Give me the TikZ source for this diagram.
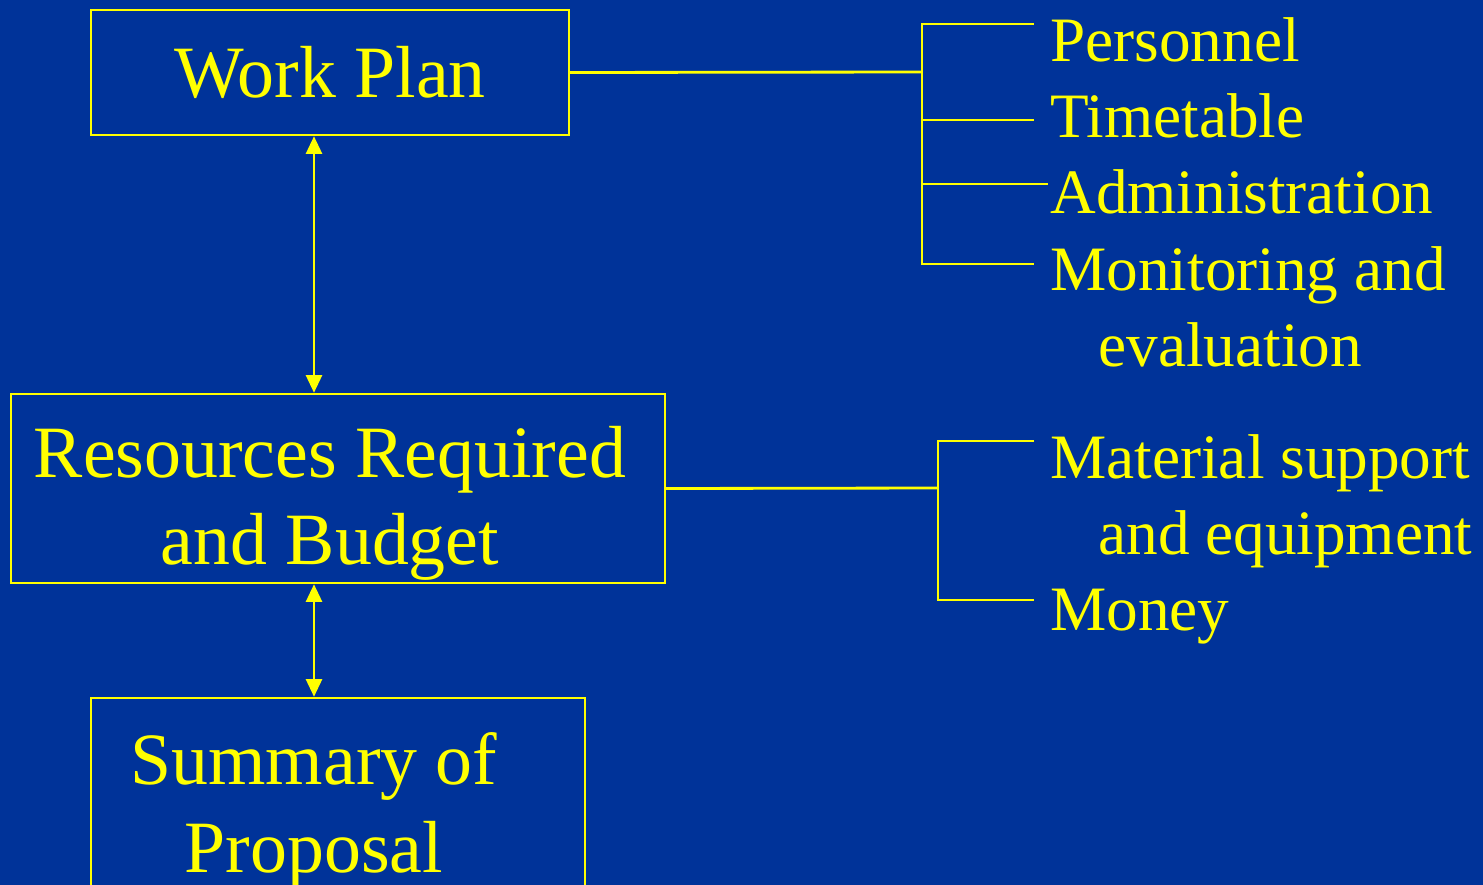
\documentclass[tikz,border=0pt]{standalone}
\usepackage{fontspec}
\setmainfont{Liberation Serif}
\usepackage{tikz}
\usetikzlibrary{arrows.meta}
\definecolor{slideblue}{HTML}{003399}
\definecolor{slideyellow}{HTML}{FFFF00}
\tikzstyle{box} = [rectangle, draw=slideyellow, line width=1.4pt, text=slideyellow, align=center, font=\fontsize{42}{50}\selectfont]
\tikzstyle{item} = [anchor=base west, inner sep=0pt, text=slideyellow, align=left, font=\fontsize{36}{43}\selectfont]
\tikzstyle{link} = [draw=slideyellow, line width=1.6pt]
\tikzstyle{arrow} = [draw=slideyellow, line width=1.6pt, {Triangle[length=10pt,width=9pt]}-{Triangle[length=10pt,width=9pt]}]

\begin{document}
\begin{tikzpicture}[x=0.02cm, y=-0.02cm]
        \fill[slideblue] (0,0) rectangle (1483,885);
        \useasboundingbox (0,0) rectangle (1483,885);
        % main boxes
        \node (wp) [box, minimum width=9.56cm, minimum height=2.5cm] at (330,72.5) {Work Plan};
        \node (rb) [box, inner ysep=0pt, minimum width=13.08cm, minimum height=3.78cm] at (338,488.5) {\rule{0pt}{46pt}Resources Required\hspace*{0.32cm}\\and Budget\hspace*{0.32cm}};
        \node (sum) [box, minimum width=9.88cm, minimum height=4.48cm] at (338,810) {Summary of\hspace*{0.96cm}\\Proposal\hspace*{0.96cm}};
        \coordinate (ax) at (314,0);
        \draw [arrow] (wp.south -| ax) -- (rb.north -| ax);
        \draw [arrow] (rb.south -| ax) -- (sum.north -| ax);
        % work plan items
        \node (per) [item] at (1050,62) {Personnel};
        \node (tim) [item] at (1050,138) {Timetable};
        \node (adm) [item] at (1050,214) {Administration};
        \node (mon) [item] at (1050,366) {Monitoring and\\\hspace*{0.96cm}evaluation};
        \coordinate (wpj) at (922,72);
        \coordinate (per-e) at (1034,24);
        \coordinate (tim-e) at (1034,120);
        \coordinate (adm-e) at (1048,184);
        \coordinate (mon-e) at (1034,264);
        \draw [link] (wp.east) -- (wpj);
        \draw [link] (per-e) -| (wpj |- mon-e) -- (mon-e);
        \draw [link] (wpj |- tim-e) -- (tim-e);
        \draw [link] (wpj |- adm-e) -- (adm-e);
        % resource items
        \node (mat) [item] at (1050,554) {Material support\\\hspace*{0.96cm}and equipment};
        \node (mon2) [item] at (1050,630) {Money};
        \coordinate (rbj) at (938,488);
        \coordinate (mat-e) at (1034,441);
        \coordinate (mny-e) at (1034,600);
        \draw [link] (rb.east) -- (rbj);
        \draw [link] (mat-e) -| (rbj |- mny-e) -- (mny-e);
    \end{tikzpicture}
\end{document}
